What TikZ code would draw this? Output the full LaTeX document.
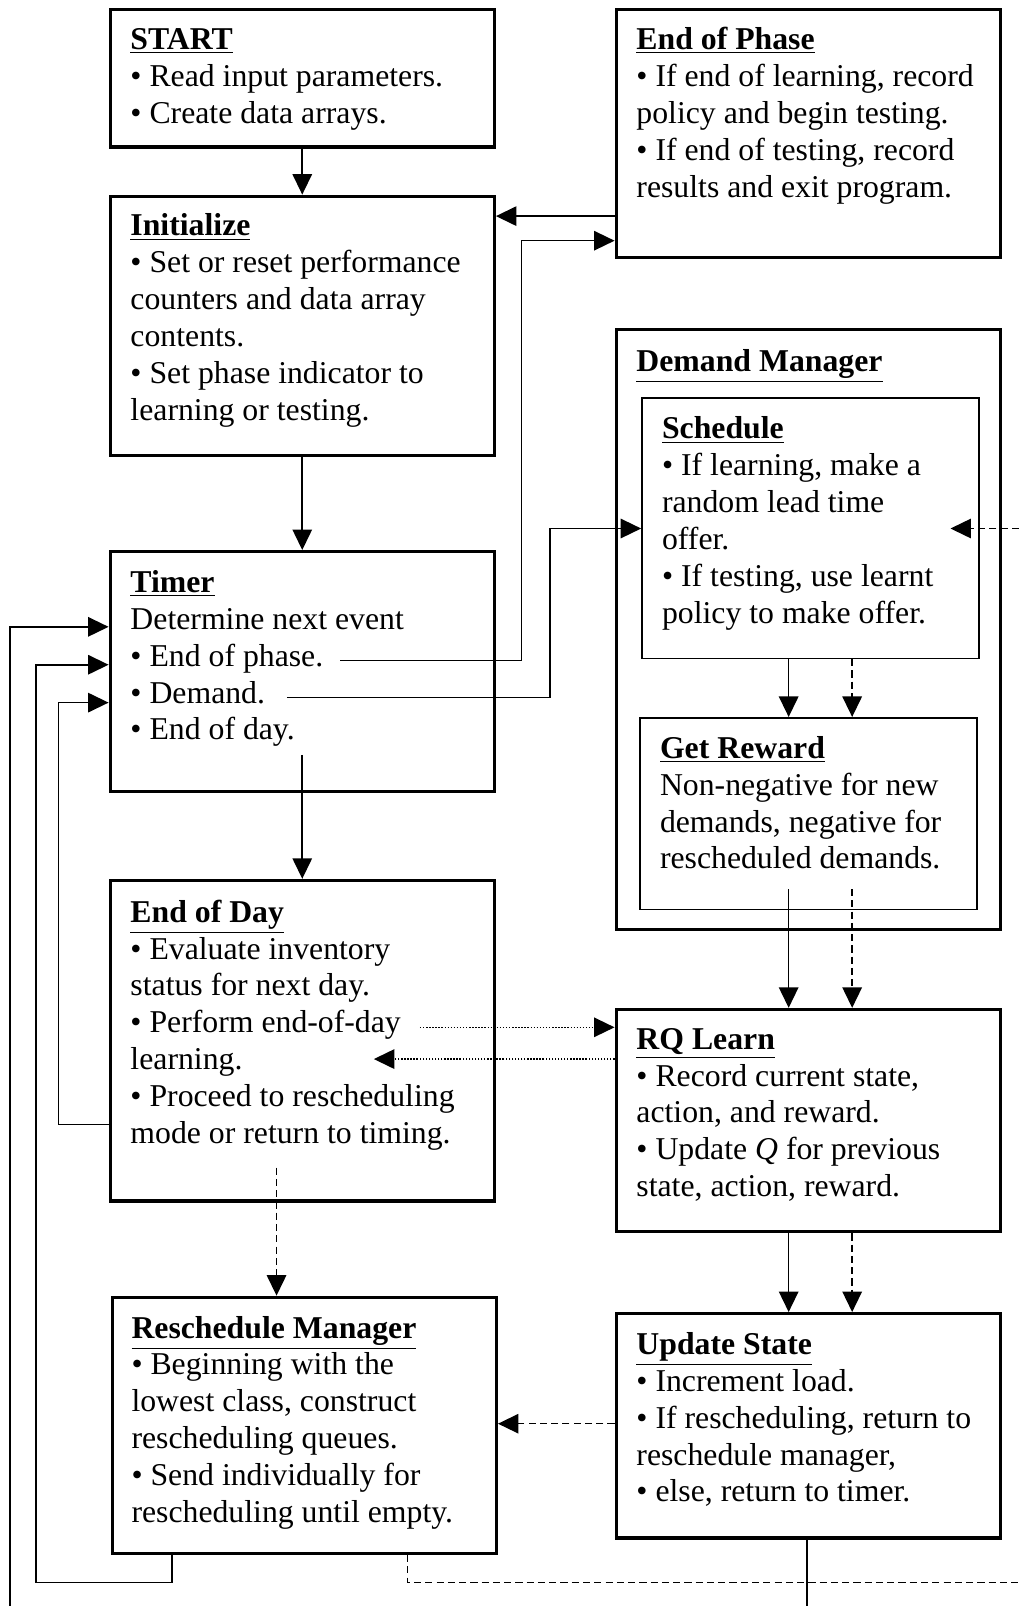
\documentclass[tikz,border=0pt]{standalone}
\usepackage{fontspec}
\setmainfont{Liberation Serif}
\usetikzlibrary{arrows.meta}
\begin{document}
\begin{tikzpicture}[x=0.5pt,y=-0.5pt,
  box/.style={draw, line width=1.6pt, inner sep=0pt, anchor=north west},
  ibox/.style={draw, line width=0.8pt, inner sep=0pt, anchor=north west},
  txt/.style={font=\fontsize{15.5}{18}\selectfont, align=left, inner sep=0pt, anchor=north west},
  conn/.style={line width=0.75pt, -{Triangle[length=10pt,width=9.5pt]}},
  dsh/.style={dash pattern=on 3.5pt off 2pt},
  dot/.style={dash pattern=on 0.7pt off 0.8pt}]
\useasboundingbox (0,0) rectangle (995,1568);
\clip (0,0) rectangle (995,1568);
% boxes
\node[box, minimum width=187.5pt, minimum height=67pt] (start) at (106,8) {};
\node[box, minimum width=187.5pt, minimum height=121pt] (eop) at (600,8) {};
\node[box, minimum width=187.5pt, minimum height=126.5pt] (init) at (106,190) {};
\node[box, minimum width=187.5pt, minimum height=293pt] (dm) at (600,320) {};
\node[ibox, minimum width=164.5pt, minimum height=127pt] (sched) at (626,388) {};
\node[ibox, minimum width=164.5pt, minimum height=93.5pt] (getr) at (624,700) {};
\node[box, minimum width=187.5pt, minimum height=117pt] (timer) at (106,537) {};
\node[box, minimum width=187.5pt, minimum height=156.5pt] (eod) at (106,858) {};
\node[box, minimum width=187.5pt, minimum height=108.5pt] (rq) at (600,984) {};
\node[box, minimum width=187.5pt, minimum height=125pt] (resch) at (108,1265) {};
\node[box, minimum width=187.5pt, minimum height=109.5pt] (us) at (600,1281) {};
% texts
\node[txt] (startT) at (127,22.8) {\strut\underline{\textbf{START}}\\ • Read input parameters.\\ • Create data arrays.};
\node[txt] (eopT) at (621,22.8) {\strut\underline{\textbf{End of Phase}}\\ • If end of learning, record\\ policy and begin testing.\\ • If end of testing, record\\ results and exit program.};
\node[txt] (initT) at (127,204.8) {\strut\underline{\textbf{Initialize}}\\ • Set or reset performance\\ counters and data array\\ contents.\\ • Set phase indicator to\\ learning or testing.};
\node[txt] (dmT) at (621,336.8) {\strut\underline{\textbf{Demand Manager}}};
\node[txt] (schedT) at (646,402.8) {\strut\underline{\textbf{Schedule}}\\ • If learning, make a\\ random lead time\\ offer.\\ • If testing, use learnt\\ policy to make offer.};
\node[txt] (getrT) at (644,714.8) {\strut\underline{\textbf{Get Reward}}\\ Non-negative for new\\ demands, negative for\\ rescheduled demands.};
\node[txt] (timerT) at (127,552.8) {\strut\underline{\textbf{Timer}}\\ Determine next event\\ • End of phase.\\ • Demand.\\ • End of day.};
\node[txt] (eodT) at (127,874.8) {\strut\underline{\textbf{End of Day}}\\ • Evaluate inventory\\ status for next day.\\ • Perform end-of-day\\ learning.\\ • Proceed to rescheduling\\ mode or return to timing.};
\node[txt] (rqT) at (621,998.8) {\strut\underline{\textbf{RQ Learn}}\\ • Record current state,\\ action, and reward.\\ • Update \textit{Q} for previous\\ state, action, reward.};
\node[txt] (reschT) at (128,1280.8) {\strut\underline{\textbf{Reschedule Manager}}\\ • Beginning with the\\ lowest class, construct\\ rescheduling queues.\\ • Send individually for\\ rescheduling until empty.};
\node[txt] (usT) at (621,1296.8) {\strut\underline{\textbf{Update State}}\\ • Increment load.\\ • If rescheduling, return to\\ reschedule manager,\\ • else, return to timer.};
% free ends
\coordinate (tPhase) at (332,645);
\coordinate (tDemand) at (280,681);
\coordinate (tDay) at (eod.north |- 0,737);
\coordinate (dLearnOut) at (410,1003);
\coordinate (dLearnIn) at (365,1034);
\coordinate (eodDash) at (270,1140);
\coordinate (schedIn) at (928,516);
% connectors
\draw[conn] (start.south) -- (init.north);
\draw[conn] (eop.west |- 0,211) -- (init.east |- 0,211);
\draw[conn] (tPhase) -- (509,645) -- (509,235) -- (eop.west |- 0,235);
\draw[conn] (tDemand) -- (537,681) -- (537,516) -- (sched.west |- 0,516);
\draw[conn] (init.south) -- (timer.north);
\draw[conn] (tDay) -- (eod.north);
\draw[conn] (sched.south -| 770,0) -- (getr.north -| 770,0);
\draw[conn,dsh] (sched.south -| 832,0) -- (getr.north -| 832,0);
\draw[conn] (770,868) -- (rq.north -| 770,0);
\draw[conn,dsh] (832,868) -- (rq.north -| 832,0);
\draw[conn,dot] (dLearnOut) -- (rq.west |- dLearnOut);
\draw[conn,dot] (rq.west |- dLearnIn) -- (dLearnIn);
\draw[conn] (eod.west |- 0,1098) -- (57,1098) -- (57,686) -- (timer.west |- 0,686);
\draw[conn,dsh] (eodDash) -- (resch.north -| eodDash);
\draw[conn] (rq.south -| 770,0) -- (us.north -| 770,0);
\draw[conn,dsh] (rq.south -| 832,0) -- (us.north -| 832,0);
\draw[conn,dsh] (us.west |- 0,1390) -- (resch.east |- 0,1390);
\draw[conn] (resch.south -| 168,0) -- (168,1545) -- (35,1545) -- (35,649) -- (timer.west |- 0,649);
\draw[conn] (us.south -| 788,0) -- (788,1600) -- (10,1600) -- (10,612) -- (timer.west |- 0,612);
\draw[conn,dsh] (resch.south -| 398,0) -- (398,1545) -- (1010,1545) -- (1010,516) -- (schedIn);
\end{tikzpicture}
\end{document}
